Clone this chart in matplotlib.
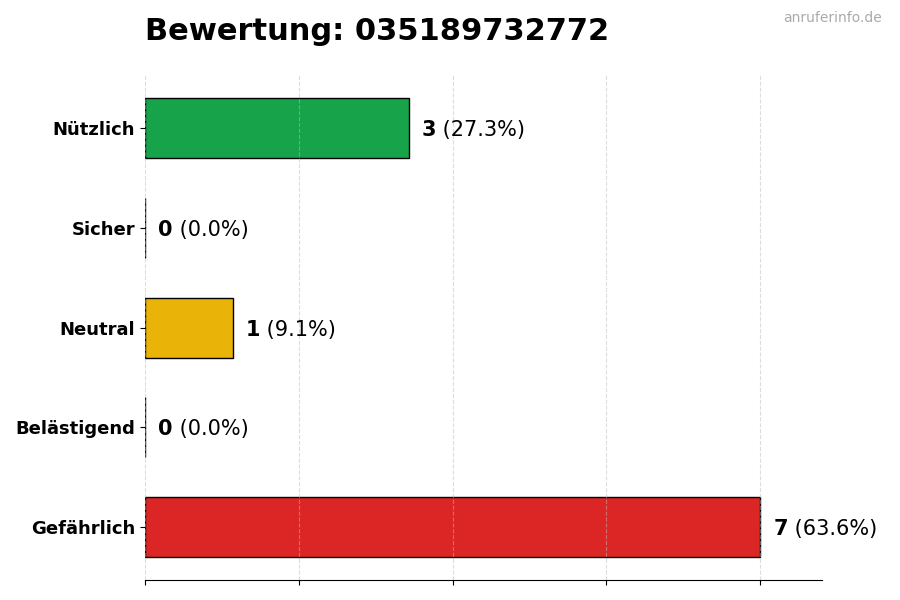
import matplotlib.pyplot as plt
import numpy as np

categories = ["Nützlich", "Sicher", "Neutral", "Belästigend", "Gefährlich"]
counts = [3, 0, 1, 0, 7]
colors = ["#16a34a", "#22c55e", "#eab308", "#f97316", "#dc2626"]
number = "035189732772"

total = sum(counts)
y = np.arange(len(categories))[::-1]

fig = plt.figure(figsize=(9, 6), dpi=100)
ax = fig.add_axes([0.161, 0.033, 0.752, 0.842])

ax.barh(y, counts, height=0.6, color=colors, edgecolor="black", linewidth=1)

xmax = max(counts) * 1.1
ax.set_xlim(0, xmax)
ax.set_xticks(np.linspace(0, max(counts), 5))
ax.set_xticklabels([])
ax.set_yticks(y)
ax.set_yticklabels(categories, fontsize=13, fontweight="bold")
ax.grid(axis="x", linestyle="--", color="#bbbbbb", alpha=0.5, linewidth=0.8)
ax.set_axisbelow(False)
for s in ["top", "right", "left"]:
    ax.spines[s].set_visible(False)

off = 0.15
for yi, c in zip(y, counts):
    pct = c / total * 100
    t = ax.text(c + off, yi, f"{c}", va="center_baseline", ha="left", fontsize=15, fontweight="bold")
    ax.annotate(f" ({pct:.1f}%)", xycoords=t, xy=(1, 0), va="bottom", ha="left", fontsize=15)

fig.text(0.161, 0.948, f"Bewertung: {number}", fontsize=22, fontweight="bold", ha="left", va="center")
fig.text(0.98, 0.97, "anruferinfo.de", fontsize=10, color="#aaaaaa", ha="right", va="center")

fig.savefig("out.png")
